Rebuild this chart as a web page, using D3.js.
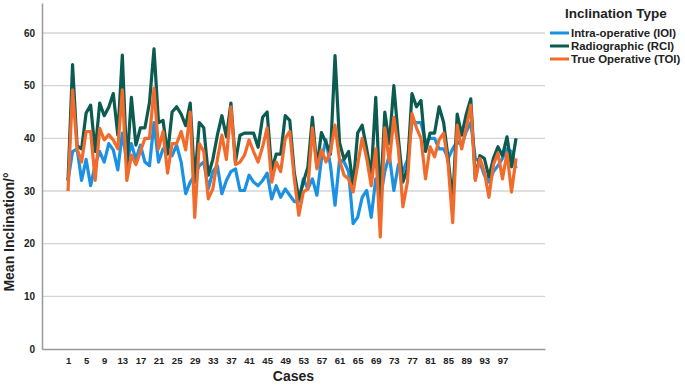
<!DOCTYPE html>
<html>
<head>
<meta charset="utf-8">
<script src="https://cdn.jsdelivr.net/npm/d3@7"></script>
<style>
  body { margin: 0; background: #fff; }
  text { font-family: "Liberation Sans", Arial, sans-serif; }
</style>
</head>
<body>
<div id="chart-area"></div>
<script>
const W = 685, H = 392

// data
const seriesNames = ["Intra-operative (IOI)", "Radiographic (RCI)", "True Operative (TOI)"]
const seriesColors = ["#1b91e3", "#0b5b51", "#f26b2b"]

const ioi = [32, 37.5, 38, 32, 36, 31, 35, 37.5, 35.5, 39, 37.8, 34, 41, 35.5, 39, 36, 38.7, 35.5, 34.8, 43,
  35.5, 38, 37.5, 36.7, 38.7, 35.5, 29.5, 31.7, 33, 34.8, 35.5, 30.4, 33.7, 34.8, 29.5, 32, 33.7, 34.2, 30.1, 30.1,
  33, 31.7, 31, 32, 33.4, 28.5, 31, 28.8, 30.4, 29.2, 28, 28, 32.3, 30.4, 32.3, 29.2, 36, 39.7, 34.8, 27.3,
  35.9, 35.5, 33.7, 23.8, 25, 28.8, 30.1, 25, 32.3, 28.5, 33.7, 36.8, 30.1, 35, 33.7, 35.9, 43, 43, 43, 39.4,
  40, 40, 38, 38, 36.2, 38, 39.4, 38.7, 41.3, 43, 36.2, 35.5, 33, 31.7, 33.7, 34.8, 36.2, 38, 37.5, 34.3]

const rci = [32, 54, 38.6, 38, 44.8, 46.3, 37.5, 46.7, 44.3, 45.9, 48.5, 40.6, 55.8, 34.8, 47.8, 38.7, 42, 42, 46.8, 57,
  43, 43.4, 37, 45, 46, 44.6, 42.4, 46.7, 31.7, 43, 42, 33, 36, 40.6, 44.3, 40.3, 46.7, 35.5, 40.6, 41,
  41, 41, 38.3, 44, 45, 34, 37, 37, 44.3, 43.4, 33.5, 28.5, 31.7, 34.5, 44, 34.5, 41.1, 39.2, 37, 55.7,
  39.2, 36, 37.5, 31, 41, 42.5, 38, 33, 47.8, 28, 45, 39, 50, 40, 31.7, 34.3, 48.5, 46, 47.2, 37.5,
  41, 41, 46, 43, 36.2, 28, 44.6, 40.6, 44.6, 47.5, 32.3, 36.7, 36.2, 32.7, 36.2, 38.4, 36.7, 40.3, 34.6, 40]

const toi = [30, 49.2, 38, 35.5, 41.3, 41.3, 32, 41.9, 39.7, 40.7, 39.7, 38, 49.2, 32, 36.8, 35, 37.5, 40, 40, 49.5,
  38, 41.3, 33.4, 39, 39, 41.3, 37.8, 45, 25, 39, 37.5, 28.5, 30.4, 36, 40.6, 36, 46, 35, 35.5, 36.8,
  39.7, 37.5, 35.5, 38.4, 42, 31.7, 35.5, 33.7, 40, 41.3, 32.3, 25.4, 29.8, 30.4, 42, 34.2, 37.8, 35.5, 37.5, 42.5,
  35.9, 33, 32.3, 29.8, 35, 40, 36.2, 31, 38, 21.3, 42, 35.5, 44, 38, 27, 31.7, 44.7, 42, 40, 32.3,
  38.4, 36.5, 39.7, 41, 35, 24, 42.5, 38, 42, 46.3, 32, 36.2, 33.7, 28.8, 35, 37.2, 32.3, 37.2, 29.8, 36.2]

const cases = d3.range(1, ioi.length + 1)
const xTicks = d3.range(1, 98, 4)
const yTicks = [0, 10, 20, 30, 40, 50, 60]

const PLOT = { LEFT: 42, RIGHT: 545, TOP: 3, BOTTOM: 349 }

const svg = d3.select("#chart-area").append("svg")
  .attr("width", W)
  .attr("height", H)

const x = d3.scaleLinear()
  .domain([-4.75, 106.4])
  .range([PLOT.LEFT, PLOT.RIGHT])

const y = d3.scaleLinear()
  .domain([0, 65.7])
  .range([PLOT.BOTTOM, PLOT.TOP])

// gridlines
svg.append("g")
  .selectAll("line")
  .data(yTicks.filter(d => d > 0))
  .enter().append("line")
    .attr("x1", PLOT.LEFT)
    .attr("x2", PLOT.RIGHT)
    .attr("y1", d => y(d))
    .attr("y2", d => y(d))
    .attr("stroke", "#d4d4d4")
    .attr("stroke-width", 1.3)

// y axis
const yAxis = svg.append("g")
  .attr("transform", `translate(${PLOT.LEFT},0)`)
  .call(d3.axisLeft(y).tickValues(yTicks).tickSize(0).tickPadding(7))
yAxis.select(".domain").attr("stroke", "#999").attr("stroke-width", 1.5)
yAxis.selectAll("text")
  .attr("font-size", "10px")
  .attr("font-weight", "bold")
  .attr("fill", "#222")
  .style("font-family", "Liberation Sans, Arial, sans-serif")

// x axis
const xAxis = svg.append("g")
  .attr("transform", `translate(0,${PLOT.BOTTOM})`)
  .call(d3.axisBottom(x).tickValues(xTicks).tickSize(0).tickPadding(8))
xAxis.select(".domain").attr("stroke", "#999").attr("stroke-width", 1.5)
xAxis.selectAll("text")
  .attr("font-size", "9.5px")
  .attr("font-weight", "bold")
  .attr("fill", "#222")
  .style("font-family", "Liberation Sans, Arial, sans-serif")

// lines
const lineGen = d3.line()
  .x((d, i) => x(cases[i]))
  .y(d => y(d))

const allSeries = [ioi, rci, toi]
allSeries.forEach((s, k) => {
  svg.append("path")
    .datum(s)
    .attr("fill", "none")
    .attr("stroke", seriesColors[k])
    .attr("stroke-width", 3.2)
    .attr("stroke-linejoin", "round")
    .attr("d", lineGen)
})

// axis titles
svg.append("text")
  .attr("x", (PLOT.LEFT + PLOT.RIGHT) / 2)
  .attr("y", 381)
  .attr("text-anchor", "middle")
  .attr("font-size", "14px")
  .attr("font-weight", "bold")
  .attr("fill", "#222")
  .text("Cases")

svg.append("text")
  .attr("transform", "translate(14,232) rotate(-90)")
  .attr("text-anchor", "middle")
  .attr("font-size", "14px")
  .attr("font-weight", "bold")
  .attr("fill", "#222")
  .text("Mean Inclination/°")

// legend
const legend = svg.append("g")
svg.append("text")
  .attr("x", 616)
  .attr("y", 18)
  .attr("text-anchor", "middle")
  .attr("font-size", "13.5px")
  .attr("font-weight", "bold")
  .attr("fill", "#222")
  .text("Inclination Type")

seriesNames.forEach((name, i) => {
  const row = legend.append("g")
    .attr("transform", `translate(550, ${33 + i * 13})`)
  row.append("line")
    .attr("x1", 0)
    .attr("x2", 19)
    .attr("stroke", seriesColors[i])
    .attr("stroke-width", 3)
  row.append("text")
    .attr("x", 21)
    .attr("y", 4.3)
    .attr("font-size", "11.4px")
    .attr("font-weight", "bold")
    .attr("fill", "#222")
    .text(name)
})
</script>
</body>
</html>
